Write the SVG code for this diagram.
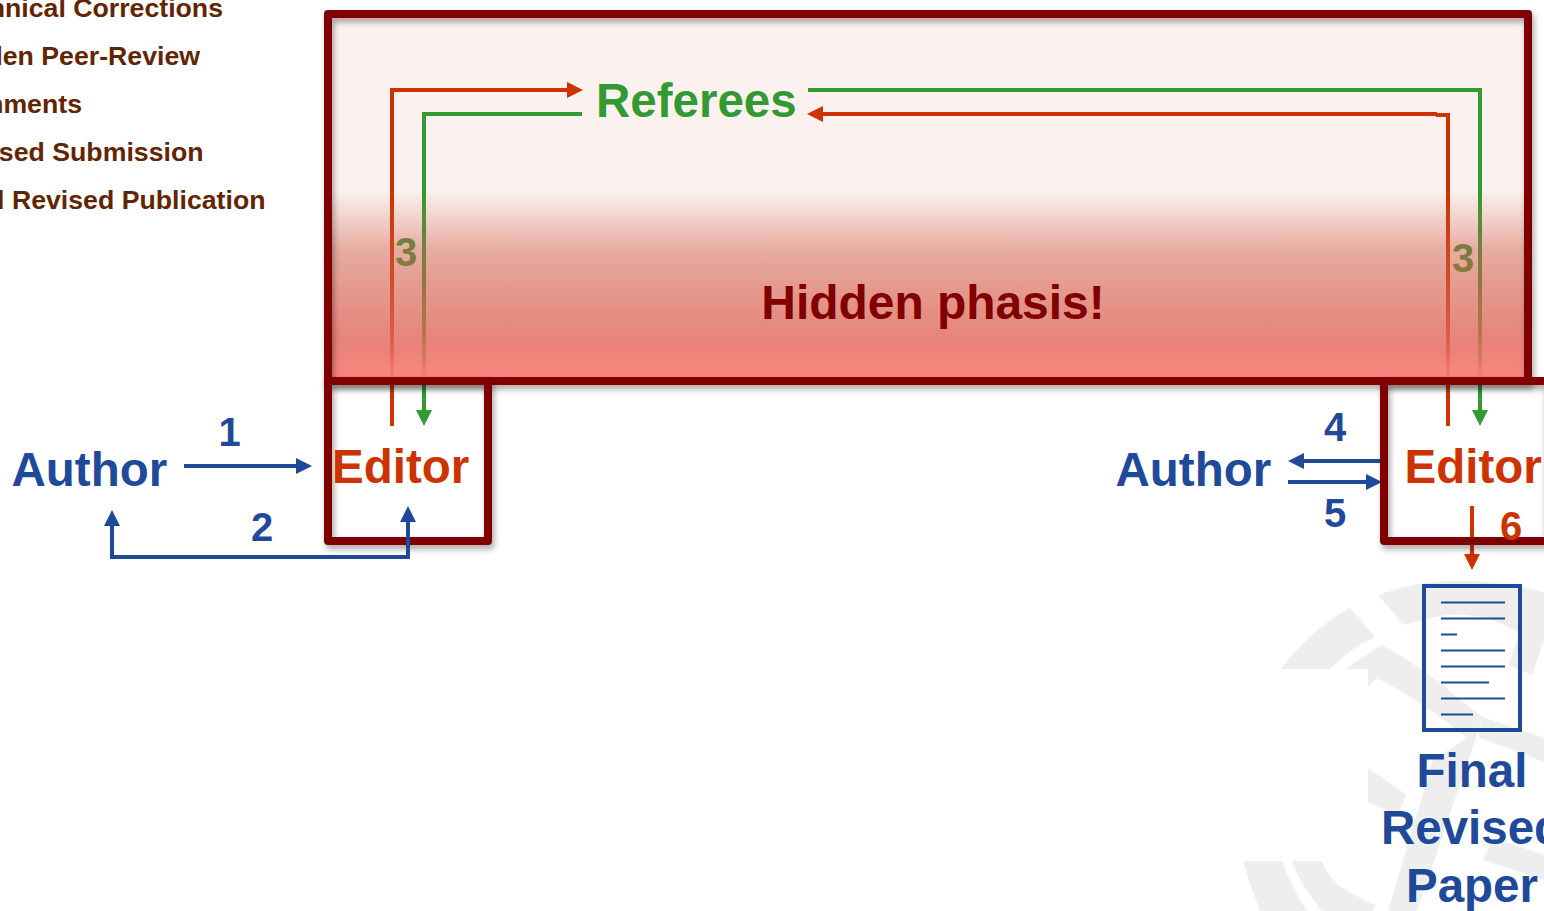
<svg xmlns="http://www.w3.org/2000/svg" width="1544" height="911" viewBox="0 0 1544 911">
<defs>
<style>
text{font-family:"Liberation Sans",Arial,sans-serif;font-weight:bold}
.big{font-size:47.500px}
.num{font-size:40px}
.leg{font-size:26.700px;fill:#632500}
.blue{fill:#1f4a9a}
.red{fill:#cc3300}
.box{fill:none;stroke:#800000;stroke-width:8;stroke-linejoin:round}
.ln{fill:none;stroke-width:4}
</style>
<linearGradient id="fade" gradientUnits="userSpaceOnUse" x1="0" y1="14" x2="0" y2="381">
<stop offset="0" stop-color="#ce5a44" stop-opacity="0"/>
<stop offset="0.48" stop-color="#ce5a44" stop-opacity="0"/>
<stop offset="0.643" stop-color="#ce5a44" stop-opacity="0.46"/>
<stop offset="0.888" stop-color="#e2685c" stop-opacity="0.8"/>
<stop offset="0.99" stop-color="#fb8078" stop-opacity="0.95"/>
<stop offset="1" stop-color="#fb8078" stop-opacity="0.95"/>
</linearGradient>
<filter id="sh" filterUnits="userSpaceOnUse" x="300" y="0" width="1300" height="600"><feDropShadow dx="2" dy="4" stdDeviation="3" flood-color="#000" flood-opacity=".35"/></filter>
<marker id="aB" markerUnits="userSpaceOnUse" markerWidth="16" markerHeight="16" refX="6" refY="8" orient="auto-start-reverse"><path d="M0 0L16 8L0 16z" fill="#1f4a9a"/></marker>
<marker id="aR" markerUnits="userSpaceOnUse" markerWidth="16" markerHeight="16" refX="6" refY="8" orient="auto"><path d="M0 0L16 8L0 16z" fill="#cc3300"/></marker>
<marker id="aG" markerUnits="userSpaceOnUse" markerWidth="16" markerHeight="16" refX="6" refY="8" orient="auto"><path d="M0 0L16 8L0 16z" fill="#339933"/></marker>
</defs>
<rect width="1544" height="911" fill="#fff"/>
<g id="watermark" fill="#eeeeee">
<path d="M1378 595Q1450 568 1544 592V640L1532 675L1509 665L1519 633Q1475 605 1422 620L1404 625Z"/>
<path d="M1281 669Q1310 630 1350 608L1375 637Q1350 648 1330 669Z"/>
<path d="M1345 669L1382 645Q1425 668 1464 703L1483 717L1467 738Q1420 700 1377 678L1368 687V669Z"/>
<path d="M1467 738L1483 717L1417 911H1388L1433 760Z"/>
<path d="M1483 717L1544 738V762L1478 737Z"/>
<path d="M1368 768L1407 795L1397 815L1368 802Z"/>
<path d="M1243 861H1282Q1290 885 1307 911H1260Q1250 885 1243 861Z"/>
<path d="M1292 861H1322Q1328 878 1342 888L1376 906L1372 911H1322Q1300 885 1292 861Z"/>
<path d="M1493 838L1544 855V880L1483 860Z"/>
</g>
<g id="legend">
<text class="leg" text-anchor="end" x="223" y="17">hnical Corrections</text>
<text class="leg" text-anchor="end" x="200" y="65">den Peer-Review</text>
<text class="leg" text-anchor="end" x="82" y="113">mments</text>
<text class="leg" text-anchor="end" x="203.500" y="161">sed Submission</text>
<text class="leg" text-anchor="end" x="265.500" y="209">l Revised Publication</text>
</g>
<g id="hidden-panel">
<rect x="328" y="14" width="1200" height="367" fill="#fbf2f0"/>
</g>
<g id="connectors">
<path class="ln" stroke="#cc3300" d="M392 426V90H573" marker-end="url(#aR)"/>
<path class="ln" stroke="#339933" d="M582 114H424V416" marker-end="url(#aG)"/>
<path class="ln" stroke="#339933" d="M808 90H1480V416" marker-end="url(#aG)"/>
<path class="ln" stroke="#cc3300" d="M1448 426V115H1436"/>
<path class="ln" stroke="#cc3300" d="M1437 114H817" marker-end="url(#aR)"/>
<path class="ln" stroke="#1f4a9a" d="M184 466H302" marker-end="url(#aB)"/>
<path class="ln" stroke="#1f4a9a" d="M1382 461H1298" marker-end="url(#aB)"/>
<path class="ln" stroke="#1f4a9a" d="M1288 482H1372" marker-end="url(#aB)"/>
<path class="ln" stroke="#cc3300" d="M1472 506V560" marker-end="url(#aR)"/>
</g>
<g id="referees"><text class="big" x="596" y="117" fill="#339933">Referees</text></g>
<g id="num3"><text class="num" x="395" y="265.500" fill="#339933">3</text><text class="num" x="1452" y="271.500" fill="#339933">3</text></g>
<rect x="328" y="14" width="1200" height="367" fill="url(#fade)"/>
<rect class="box" x="328" y="14" width="1200" height="367" filter="url(#sh)"/>
<g id="hidden-label"><text class="big" style="font-size:47.900px" x="933" y="318.500" text-anchor="middle" fill="#800000">Hidden phasis!</text></g>
<g id="author-1"><text class="big blue" x="11.500" y="486">Author</text></g>
<g id="editor-1"><rect class="box" x="328" y="381" width="160" height="160" filter="url(#sh)"/><text class="big red" x="332" y="483">Editor</text></g>
<g id="author-2"><text class="big blue" x="1115.500" y="486">Author</text></g>
<g id="editor-2"><rect class="box" x="1384" y="381" width="164" height="160" filter="url(#sh)"/><text class="big red" x="1404.500" y="483">Editor</text></g>
<g id="connectors-over">
<path class="ln" stroke="#1f4a9a" d="M408 516V557H112V520" marker-start="url(#aB)" marker-end="url(#aB)"/>
</g>
<g id="labels">
<text class="num blue" x="218.500" y="446">1</text>
<text class="num blue" x="251" y="541">2</text>
<text class="num blue" x="1324" y="441">4</text>
<text class="num blue" x="1324" y="527">5</text>
<text class="num red" x="1500" y="540">6</text>
</g>
<g id="document"><rect x="1424" y="586" width="96" height="144" fill="none" stroke="#1f4a9a" stroke-width="4"/>
<path stroke="#1f4a9a" stroke-width="2" d="M1441 602.500h64M1441 618.500h64M1441 634.500h16M1441 650.500h64M1441 666.500h64M1441 682.500h48M1441 698.500h64M1441 714.500h32"/></g>
<g id="final"><text class="big blue" text-anchor="middle" x="1472" y="786.500">Final</text><text class="big blue" text-anchor="middle" x="1472" y="843.500">Revised</text><text class="big blue" text-anchor="middle" x="1472" y="901.500">Paper</text></g>
</svg>
